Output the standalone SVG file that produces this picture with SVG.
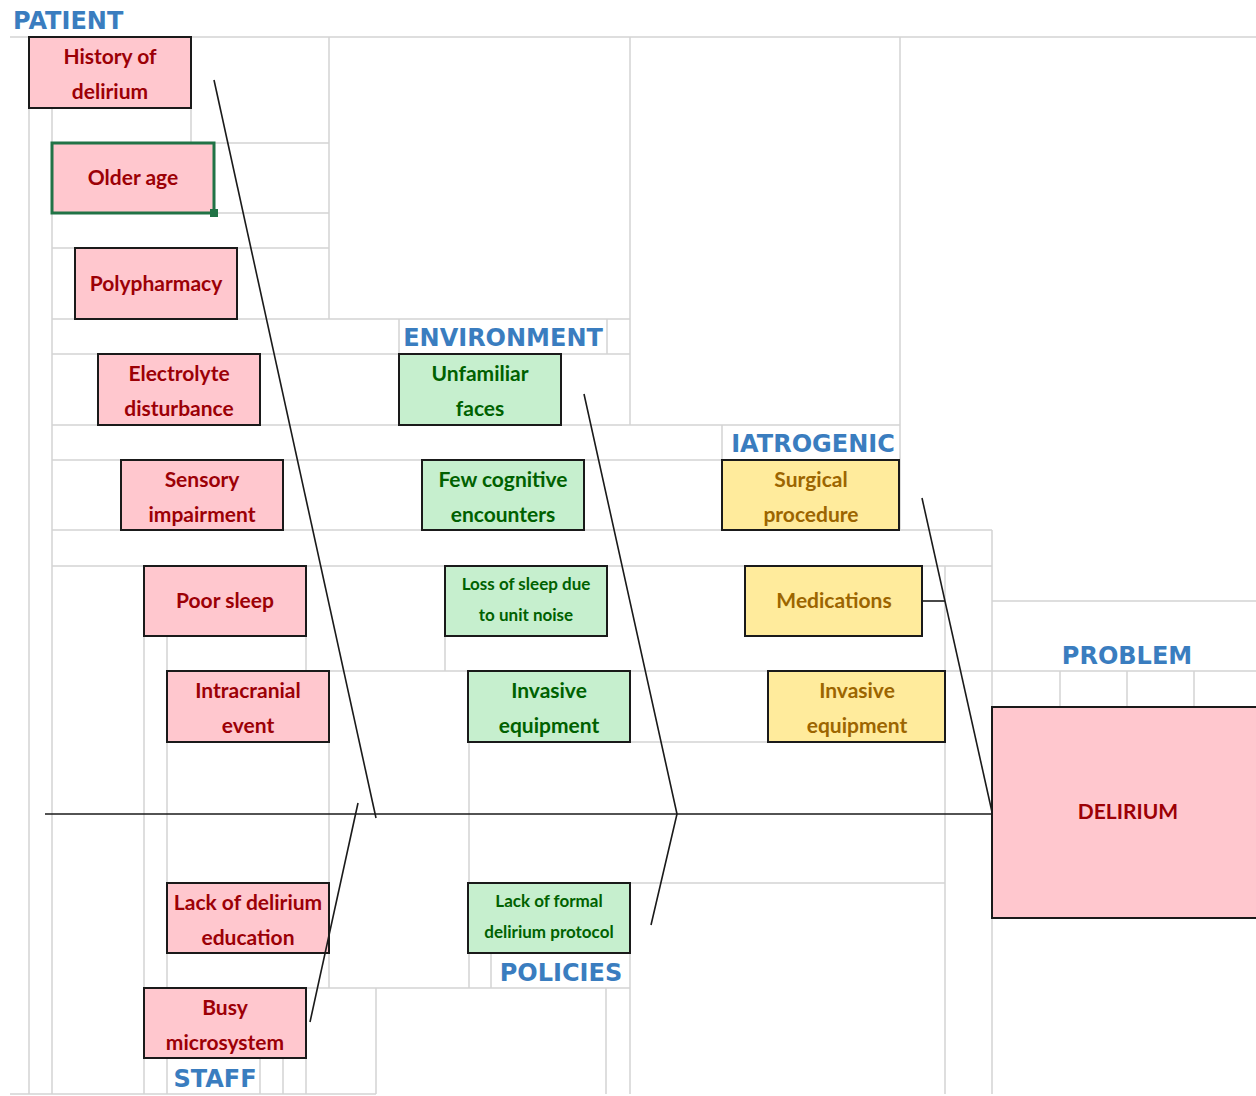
<svg xmlns="http://www.w3.org/2000/svg" width="1256" height="1096" viewBox="0 0 1256 1096">
<style>
.g{stroke:#d4d4d4;stroke-width:1.5;fill:none}
.box{stroke:#1a1a1a;stroke-width:2}
.pk{fill:#FFC7CE}
.gr{fill:#C6EFCE}
.yl{fill:#FFEB9C}
.t{font-family:Lato,"Open Sans",sans-serif;font-weight:700;font-size:21px;text-anchor:middle}
.ts{font-size:17px}
.tp{fill:#9C0006}
.tg{fill:#006100}
.ty{fill:#9C6500}
.h{font-family:"DejaVu Sans",Verdana,sans-serif;font-weight:700;font-size:24px;fill:#3A7DBF}
.ln{stroke:#1a1a1a;stroke-width:1.6;fill:none}
</style>
<rect width="1256" height="1096" fill="#ffffff"/>
<g id="grid" class="g">
<path d="M10 37H1256 M191 143H329 M214 213H329 M52 248H329 M52 319H630 M52 354H630 M52 425H900 M52 460H722 M52 530H992 M52 566H992 M306 671H992 M630 742H768 M630 883H945 M306 988H630 M10 1094H376 M992 601H1256 M992 671H1256"/>
<path d="M29 108V1094 M52 108V1094 M191 108V143 M329 37V319 M630 37V425 M900 37V530 M399 319V354 M607 319V354 M722 425V460 M992 530V707 M945 566V1094 M144 636V1094 M167 636V1094 M306 636V671 M329 742V988 M445 636V671 M469 742V988 M376 988V1094 M260 1058V1094 M283 1058V1094 M306 1058V1094 M491 953V988 M606 988V1094 M630 883V1094 M992 918V1094 M1060 671V707 M1127 671V707 M1194 671V707"/>
</g>
<g id="headers">
<text class="h" x="13" y="29">PATIENT</text>
<text class="h" x="503" y="346" text-anchor="middle">ENVIRONMENT</text>
<text class="h" x="813" y="452" text-anchor="middle">IATROGENIC</text>
<text class="h" x="1127" y="664" text-anchor="middle">PROBLEM</text>
<text class="h" x="561" y="981" text-anchor="middle">POLICIES</text>
<text class="h" x="215" y="1087" text-anchor="middle">STAFF</text>
</g>
<g id="history-of-delirium"><rect class="box pk" x="29" y="37" width="162" height="71"/><text class="t tp" x="110" y="64">History of</text><text class="t tp" x="110" y="99">delirium</text></g>
<g id="older-age"><rect class="pk" x="52" y="143" width="162" height="70" stroke="#217346" stroke-width="3"/><rect x="210" y="209" width="8" height="8" fill="#217346"/><text class="t tp" x="133" y="185">Older age</text></g>
<g id="polypharmacy"><rect class="box pk" x="75" y="248" width="162" height="71"/><text class="t tp" x="156" y="291">Polypharmacy</text></g>
<g id="electrolyte-disturbance"><rect class="box pk" x="98" y="354" width="162" height="71"/><text class="t tp" x="179" y="381">Electrolyte</text><text class="t tp" x="179" y="416">disturbance</text></g>
<g id="sensory-impairment"><rect class="box pk" x="121" y="460" width="162" height="70"/><text class="t tp" x="202" y="487">Sensory</text><text class="t tp" x="202" y="522">impairment</text></g>
<g id="poor-sleep"><rect class="box pk" x="144" y="566" width="162" height="70"/><text class="t tp" x="225" y="608">Poor sleep</text></g>
<g id="intracranial-event"><rect class="box pk" x="167" y="671" width="162" height="71"/><text class="t tp" x="248" y="698">Intracranial</text><text class="t tp" x="248" y="733">event</text></g>
<g id="unfamiliar-faces"><rect class="box gr" x="399" y="354" width="162" height="71"/><text class="t tg" x="480" y="381">Unfamiliar</text><text class="t tg" x="480" y="416">faces</text></g>
<g id="few-cognitive-encounters"><rect class="box gr" x="422" y="460" width="162" height="70"/><text class="t tg" x="503" y="487">Few cognitive</text><text class="t tg" x="503" y="522">encounters</text></g>
<g id="loss-of-sleep"><rect class="box gr" x="445" y="566" width="162" height="70"/><text class="t ts tg" x="526" y="590">Loss of sleep due</text><text class="t ts tg" x="526" y="621">to unit noise</text></g>
<g id="invasive-equipment-env"><rect class="box gr" x="468" y="671" width="162" height="71"/><text class="t tg" x="549" y="698">Invasive</text><text class="t tg" x="549" y="733">equipment</text></g>
<g id="lack-of-formal-protocol"><rect class="box gr" x="468" y="883" width="162" height="70"/><text class="t ts tg" x="549" y="907">Lack of formal</text><text class="t ts tg" x="549" y="938">delirium protocol</text></g>
<g id="surgical-procedure"><rect class="box yl" x="722" y="460" width="177" height="70"/><text class="t ty" x="811" y="487">Surgical</text><text class="t ty" x="811" y="522">procedure</text></g>
<g id="medications"><rect class="box yl" x="745" y="566" width="177" height="70"/><text class="t ty" x="834" y="608">Medications</text></g>
<g id="invasive-equipment-iat"><rect class="box yl" x="768" y="671" width="177" height="71"/><text class="t ty" x="857" y="698">Invasive</text><text class="t ty" x="857" y="733">equipment</text></g>
<g id="lack-of-delirium-education"><rect class="box pk" x="167" y="883" width="162" height="70"/><text class="t tp" x="248" y="910">Lack of delirium</text><text class="t tp" x="248" y="945">education</text></g>
<g id="busy-microsystem"><rect class="box pk" x="144" y="988" width="162" height="70"/><text class="t tp" x="225" y="1015">Busy</text><text class="t tp" x="225" y="1050">microsystem</text></g>
<g id="delirium"><rect class="box pk" x="992" y="707" width="280" height="211"/><text class="t tp" x="1128" y="819" font-size="22">DELIRIUM</text></g>
<g id="connectors">
<path class="ln" d="M45 814H992" stroke-width="2"/>
<path class="ln" d="M214 80L376 818"/>
<path class="ln" d="M310 1022L358 803"/>
<path class="ln" d="M584 394L677 814L651 925"/>
<path class="ln" d="M922 498L992 812"/>
<path class="ln" d="M922 601H945"/>
</g>
</svg>
